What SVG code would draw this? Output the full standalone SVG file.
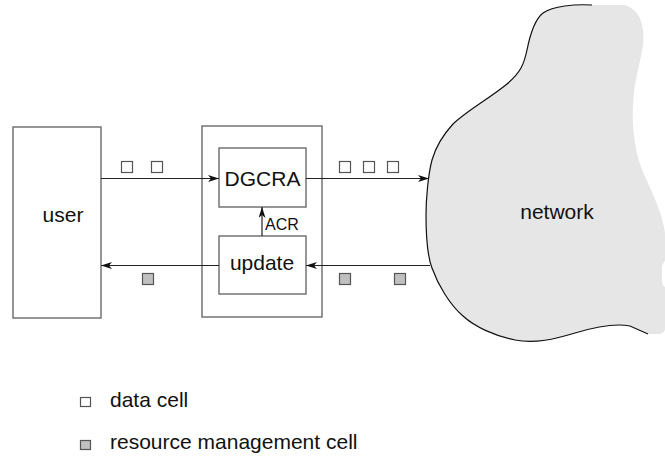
<svg xmlns="http://www.w3.org/2000/svg" width="665" height="456" viewBox="0 0 665 456">
<defs>
<marker id="ah" markerWidth="12" markerHeight="8" refX="11" refY="3.5" orient="auto" markerUnits="userSpaceOnUse">
<path d="M0,0 L11,3.5 L0,7 L3,3.5 z" fill="#111"/>
</marker>
<style>
.box{fill:#fff;stroke:#6a6a6a;stroke-width:1.4}
.lbl{font-family:"Liberation Sans",Arial,sans-serif;font-size:21px;fill:#111}
.sm{font-family:"Liberation Sans",Arial,sans-serif;font-size:16px;fill:#111}
.con{stroke:#222;stroke-width:1.2;fill:none;marker-end:url(#ah)}
.dc{fill:#fff;stroke:#555;stroke-width:1.2}
.rm{fill:#c0c0c0;stroke:#555;stroke-width:1.2}
</style>
</defs>
<rect width="665" height="456" fill="#fff"/>
<g id="network">
<path d="M592,5 C575,4 553,6 543,13 C534,20 530,35 527,50 C524,64 521,72 507,84 C490,98 468,110 453,124 C442,136 436,146 432,160 C428,175 426,200 426,215 C426,235 427,255 432,268 C438,285 450,305 463,316 C475,327 495,336 515,340 C535,344 555,339 575,333 C595,327 615,323 630,326 L648,334 L660,334 C665,332 665,330 665,328 L665,287 C662,285 662,283 662,280 L662,268 C662,264 665,262 665,260 L665,233 C663,215 652,192 643,172 C634,150 632,125 633,105 C634,80 640,65 643,45 C645,25 640,10 625,5 Z" fill="#e6e6e6"/>
<path d="M592,5 C575,4 553,6 543,13 C534,20 530,35 527,50 C524,64 521,72 507,84 C490,98 468,110 453,124 C442,136 436,146 432,160 C428,175 426,200 426,215 C426,235 427,255 432,268 C438,285 450,305 463,316 C475,327 495,336 515,340 C535,344 555,339 575,333 C595,327 615,323 630,326 L648,334" fill="none" stroke="#111" stroke-width="1.2"/>
<text class="lbl" x="557" y="219" text-anchor="middle">network</text>
</g>
<g id="user">
<rect class="box" x="13" y="127" width="88" height="191"/>
<text class="lbl" x="63" y="222" text-anchor="middle">user</text>
</g>
<g id="switch">
<rect class="box" x="202" y="126" width="120" height="191"/>
</g>
<g id="dgcra">
<rect class="box" x="219" y="148" width="87" height="59"/>
<text class="lbl" x="262.5" y="186" text-anchor="middle">DGCRA</text>
</g>
<g id="update">
<rect class="box" x="219" y="236" width="87" height="58"/>
<text class="lbl" x="262" y="270" text-anchor="middle">update</text>
</g>
<g id="connectors">
<line class="con" x1="101" y1="178.5" x2="219" y2="178.5"/>
<line class="con" x1="306" y1="178.5" x2="429" y2="178.5"/>
<line class="con" x1="430" y1="265.5" x2="306" y2="265.5"/>
<line class="con" x1="219" y1="265.5" x2="101" y2="265.5"/>
<line class="con" x1="262" y1="236" x2="262" y2="207"/>
<text class="sm" x="265" y="230">ACR</text>
</g>
<g id="cells">
<rect class="dc" x="121.5" y="161.5" width="11" height="11"/>
<rect class="dc" x="151.5" y="161.5" width="11" height="11"/>
<rect class="dc" x="339.5" y="161.5" width="11" height="11"/>
<rect class="dc" x="363.5" y="161.5" width="11" height="11"/>
<rect class="dc" x="387.5" y="161.5" width="11" height="11"/>
<rect class="rm" x="142.5" y="273.5" width="11" height="11"/>
<rect class="rm" x="339.5" y="273.5" width="11" height="11"/>
<rect class="rm" x="394.5" y="273.5" width="11" height="11"/>
</g>
<g id="legend">
<rect class="dc" x="80.5" y="397.5" width="10" height="9"/>
<text class="lbl" x="110" y="407">data cell</text>
<rect class="rm" x="80.5" y="440.5" width="10" height="9"/>
<text class="lbl" x="110" y="449">resource management cell</text>
</g>
</svg>
